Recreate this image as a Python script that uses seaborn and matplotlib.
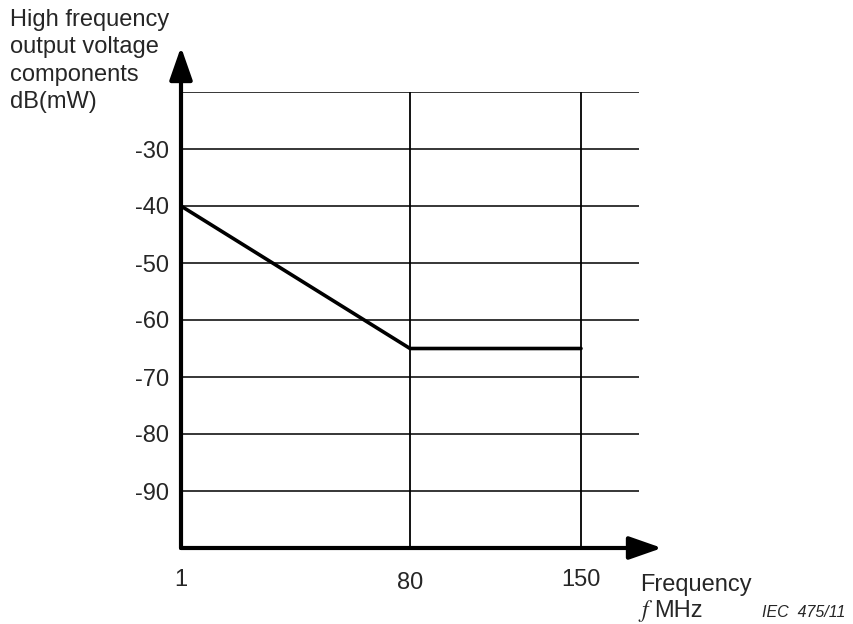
import numpy as np
import matplotlib
matplotlib.use("Agg")
import matplotlib.pyplot as plt
import matplotlib.transforms as mtransforms
import seaborn as sns
import pandas as pd

# ---- data ----
freq_mhz = [1, 80, 150]
level_db = [-40, -65, -65]
x_ticks = [1, 80, 150]
x_tick_labels = ["1", "80", "150"]
y_ticks = [-90, -80, -70, -60, -50, -40, -30]
y_tick_labels = ["-90", "-80", "-70", "-60", "-50", "-40", "-30"]
y_grid = [-90, -80, -70, -60, -50, -40, -30, -20]
x_grid = [80, 150]

sns.set_theme(style="white")
plt.rcParams['font.family'] = ['Liberation Sans', 'DejaVu Sans']

W, H = 854, 624
fig = plt.figure(figsize=(W/100, H/100), dpi=100)
ax = fig.add_axes([181/W, 1-548/H, (639-181)/W, (548-92)/H])

# piecewise (schematic) frequency axis
kf = np.array([1.0, 80.0, 150.0, 300.0])
kp = np.array([0.0, 229.0, 400.0, 400.0 + 150*171/70])
def fwd(v):
    return np.interp(v, kf, kp)
def inv(v):
    return np.interp(v, kp, kf)
ax.set_xscale('function', functions=(fwd, inv))
ax.set_xlim(1, inv(458.0))
ax.set_ylim(-100, -20)

# grid
for yv in y_grid:
    ax.axhline(yv, color='black', lw=1.1, zorder=1)
for xv in x_grid:
    ax.axvline(xv, color='black', lw=1.3, zorder=1)

df = pd.DataFrame({"f": freq_mhz, "db": level_db})
sns.lineplot(data=df, x="f", y="db", color='black', lw=2.6, ax=ax, zorder=3,
             solid_joinstyle='miter')

for s in ax.spines.values():
    s.set_visible(False)

FS = 17
ax.set_xticks(x_ticks)
ax.set_xticklabels(x_tick_labels, fontsize=FS)
ax.set_yticks(y_ticks)
ax.set_yticklabels(y_tick_labels, fontsize=FS)
ax.tick_params(axis='both', length=0)
ax.tick_params(axis='y', pad=8.5)
ax.tick_params(axis='x', pad=15)
ax.set_xlabel("")
ax.set_ylabel("")
# 80 sits slightly lower
lbl = ax.get_xticklabels()[1]
lbl.set_transform(lbl.get_transform() + mtransforms.ScaledTranslation(0, -3/100, fig.dpi_scale_trans))

# axis arrows
arrow_kw = dict(arrowstyle='-|>,head_length=20,head_width=7', mutation_scale=1,
                lw=3.0, color='black', shrinkA=0, shrinkB=0)
ax.annotate("", xy=(0, (548-47)/456), xytext=(0, 0), xycoords='axes fraction',
            textcoords='axes fraction', arrowprops=arrow_kw, annotation_clip=False)
ax.annotate("", xy=((662-181)/458, 0), xytext=(0, 0), xycoords='axes fraction',
            textcoords='axes fraction', arrowprops=arrow_kw, annotation_clip=False)

# labels
fig.text(10/W, 1-9/H, "High frequency\noutput voltage\ncomponents\ndB(mW)",
         ha='left', va='top', fontsize=FS, linespacing=1.31,
         multialignment='left')
fig.text(640/W, 1-591/H, "Frequency", ha='left', va='baseline', fontsize=FS)
fig.text(638/W, 1-617/H, "$\\mathit{f}$", ha='left', va='baseline', fontsize=FS,
         math_fontfamily='stix')
fig.text(654/W, 1-617/H, "MHz", ha='left', va='baseline', fontsize=FS)
fig.text(762/W, 1-617/H, "IEC  475/11", ha='left', va='baseline', fontsize=11.5,
         style='italic')

fig.savefig("out.png", dpi=100)
